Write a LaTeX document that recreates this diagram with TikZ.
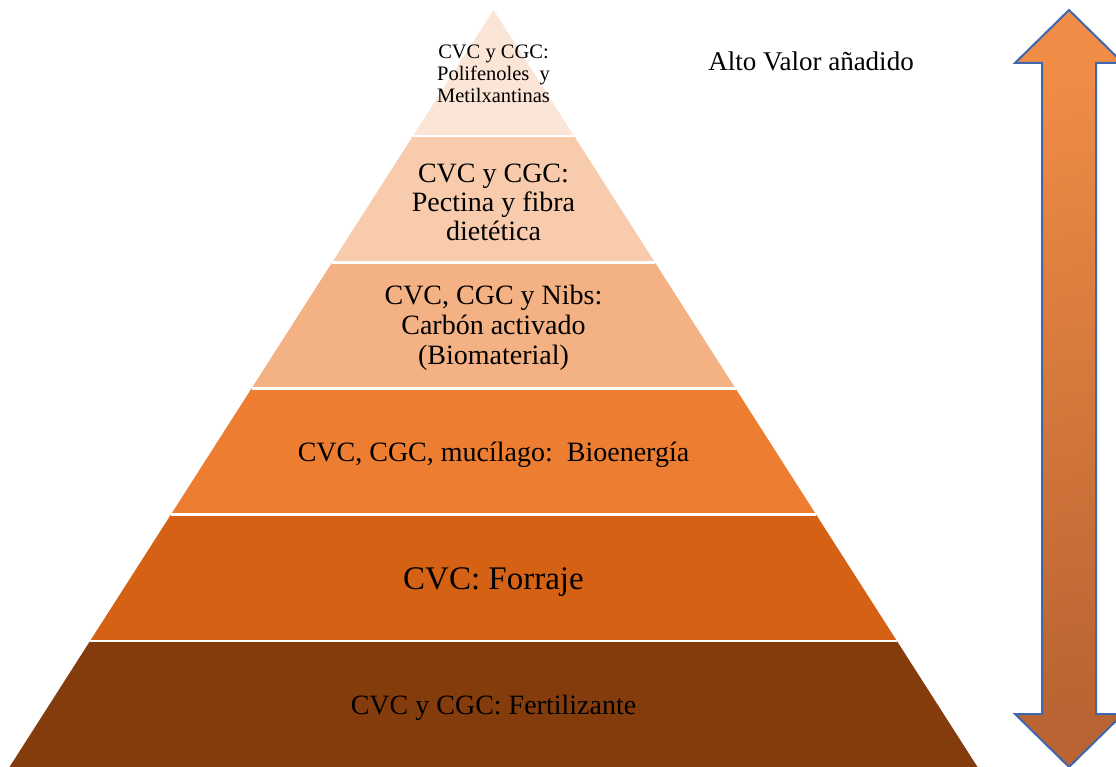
\documentclass[tikz,border=0pt]{standalone}
\usepackage{fontspec}
\setmainfont{Liberation Serif}
\usetikzlibrary{calc}
\definecolor{capa1}{HTML}{FBE5D6}
\definecolor{capa2}{HTML}{F8CBAD}
\definecolor{capa3}{HTML}{F4B183}
\definecolor{capa4}{HTML}{ED7D31}
\definecolor{capa5}{HTML}{D56214}
\definecolor{capa6}{HTML}{843C0C}
\definecolor{flechaarr}{HTML}{F08C46}
\definecolor{flechaab}{HTML}{B96432}
\definecolor{borde}{HTML}{3F67B0}

\begin{document}
\begin{tikzpicture}[x=1pt,y=-1pt,
    etiqueta/.style={align=center,inner sep=0pt,text=black}]
  \useasboundingbox (0,0) rectangle (1116,767);

  % piramide
  \coordinate (cima) at (493.5,10);
  \coordinate (bizq) at (9.5,767);
  \coordinate (bder) at (977.5,767);
  \foreach \i/\c in {1/capa1,2/capa2,3/capa3,4/capa4,5/capa5,6/capa6}{
    \fill[\c] ($(cima)!{(\i-1)/6}!(bizq)$) -- ($(cima)!{\i/6}!(bizq)$)
      -- ($(cima)!{\i/6}!(bder)$) -- ($(cima)!{(\i-1)/6}!(bder)$) -- cycle;
  }
  \foreach \i in {1,...,5}
    \draw[white,line width=2.5] ($(cima)!{\i/6}!(bizq)$) -- ($(cima)!{\i/6}!(bder)$);

  \node[etiqueta,font=\fontsize{20.5}{22}\selectfont] (c1) at (493.5,74)
    {CVC y CGC:\\Polifenoles\ \ y\\Metilxantinas};
  \node[etiqueta,font=\fontsize{28}{29}\selectfont] (c2) at (493.5,202)
    {CVC y CGC:\\Pectina y fibra\\dietética};
  \node[etiqueta,font=\fontsize{28}{30}\selectfont] (c3) at (493.5,328)
    {CVC, CGC y Nibs:\\Carbón activado\\(Biomaterial)};
  \node[etiqueta,font=\fontsize{28}{30}\selectfont] (c4) at (493.5,455)
    {CVC, CGC, mucílago:\ \ Bioenergía};
  \node[etiqueta,font=\fontsize{33}{36}\selectfont] (c5) at (493.5,582)
    {CVC: Forraje};
  \node[etiqueta,font=\fontsize{28}{30}\selectfont] (c6) at (493.5,708)
    {CVC y CGC: Fertilizante};

  \node[etiqueta,font=\fontsize{27}{30}\selectfont] (valor) at (811,61)
    {Alto Valor añadido};

  % flecha doble
  \filldraw[draw=borde,line width=2,line join=miter,
      top color=flechaarr,bottom color=flechaab,shading angle=15]
    (1069,10) -- (1123,63) -- (1096,63) -- (1096,714) -- (1123,714)
    -- (1069,767) -- (1015,714) -- (1042,714) -- (1042,63) -- (1015,63) -- cycle;
\end{tikzpicture}
\end{document}
